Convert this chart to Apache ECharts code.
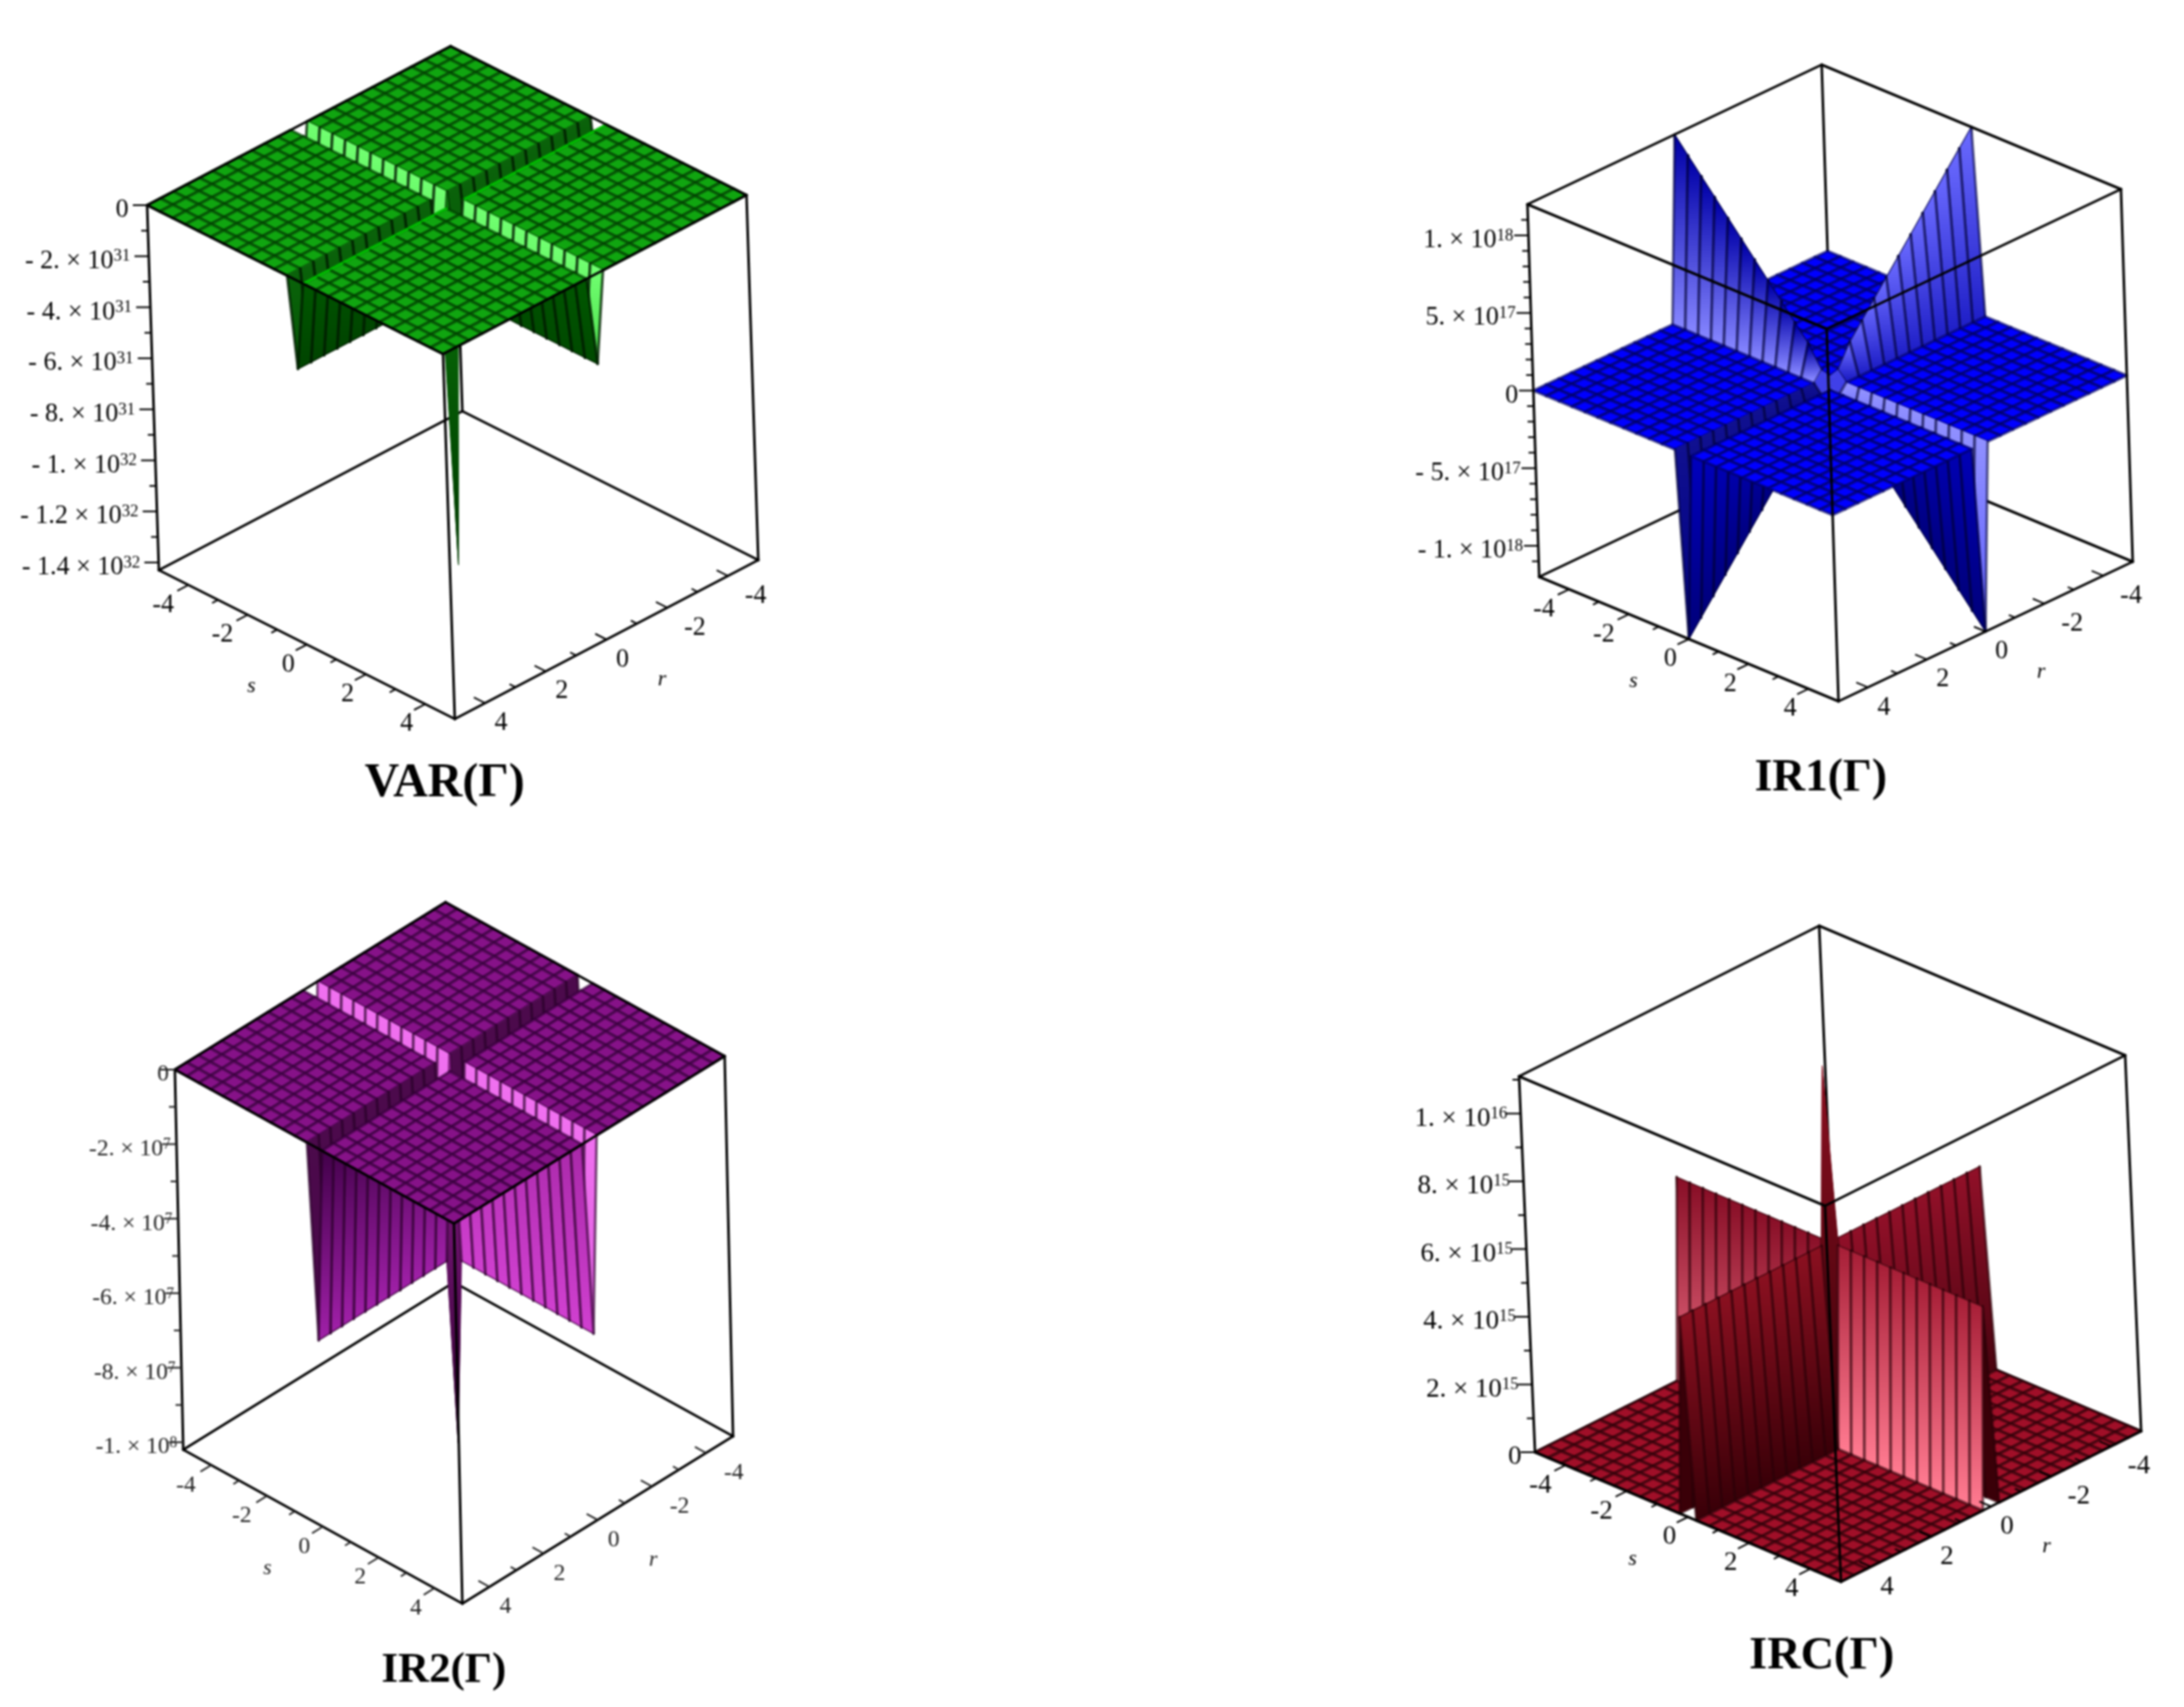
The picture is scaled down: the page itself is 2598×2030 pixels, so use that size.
<!DOCTYPE html>
<html><head><meta charset="utf-8">
<style>html,body{margin:0;padding:0;background:#fff}#c{width:2598px;height:2030px;filter:blur(0.8px)}</style>
<script src="https://cdn.jsdelivr.net/npm/echarts@6/dist/echarts.min.js"></script>
</head><body><div id="c"></div>
<script>
// ---- data ----
const gridCoords=[-5,-4.57,-4.14,-3.71,-3.28,-2.85,-2.42,-1.99,-1.56,-1.13,-0.7,-0.27,0,0.27,0.7,1.13,1.56,1.99,2.42,2.85,3.28,3.71,4.14,4.57,5];
const axisTicks=[-4,-3,-2,-1,0,1,2,3,4];
const axisLabels=[-4,-2,0,2,4];

const varRange=[0,-1.43e32];
const varMajor=[0,-2e31,-4e31,-6e31,-8e31,-1e32,-1.2e32,-1.4e32];
const varMinor=[-1e31,-3e31,-5e31,-7e31,-9e31,-1.1e32,-1.3e32];
const varTickText=['0','- 2. × 10{sup|31}','- 4. × 10{sup|31}','- 6. × 10{sup|31}','- 8. × 10{sup|31}','- 1. × 10{sup|32}','- 1.2 × 10{sup|32}','- 1.4 × 10{sup|32}'];
const varAlongR=[-3.5e31,-3.5e31,-3.5e31,-3.5e31,-3.5e31,-3.5e31,-3.5e31,-3.5e31,-3.5e31,-3.5e31,-3.5e31,-3.5e31,-1.43e32,-3.5e31,-3.5e31,-3.5e31,-3.5e31,-3.5e31,-3.5e31,-3.5e31,-3.5e31,-3.5e31,-3.5e31,-3.5e31,-3.5e31];
const varAlongS=[-3.5e31,-3.5e31,-3.5e31,-3.5e31,-3.5e31,-3.5e31,-3.5e31,-3.5e31,-3.5e31,-3.5e31,-3.5e31,-3.5e31,-1.43e32,-3.5e31,-3.5e31,-3.5e31,-3.5e31,-3.5e31,-3.5e31,-3.5e31,-3.5e31,-3.5e31,-3.5e31,-3.5e31,-3.5e31];

const ir1Range=[1.2e18,-1.2e18];
const ir1Major=[1e18,5e17,0,-5e17,-1e18];
const ir1Minor=[1.1e18,9e17,8e17,7e17,6e17,4e17,3e17,2e17,1e17,-1e17,-2e17,-3e17,-4e17,-6e17,-7e17,-8e17,-9e17,-1.1e18];
const ir1TickText=['1. × 10{sup|18}','5. × 10{sup|17}','0','- 5. × 10{sup|17}','- 1. × 10{sup|18}'];
const ir1AlongR=[1.2e18,1.1e18,1e18,9e17,8e17,7e17,6e17,5e17,4e17,3e17,2e17,6e16,0,-6e16,-2e17,-3e17,-4e17,-5e17,-6e17,-7e17,-8e17,-9e17,-1e18,-1.1e18,-1.2e18];
const ir1AlongS=[1.2e18,1.1e18,1e18,9e17,8e17,7e17,6e17,5e17,4e17,3e17,2e17,6e16,0,-6e16,-2e17,-3e17,-4e17,-5e17,-6e17,-7e17,-8e17,-9e17,-1e18,-1.1e18,-1.2e18];

const ir2Range=[0,-1.02e8];
const ir2Major=[0,-2e7,-4e7,-6e7,-8e7,-1e8];
const ir2Minor=[-1e7,-3e7,-5e7,-7e7,-9e7];
const ir2TickText=['0','-2. × 10{sup|7}','-4. × 10{sup|7}','-6. × 10{sup|7}','-8. × 10{sup|7}','-1. × 10{sup|8}'];
const ir2AlongR=[-5.2e7,-5.2e7,-5.2e7,-5.2e7,-5.2e7,-5.2e7,-5.2e7,-5.2e7,-5.2e7,-5.2e7,-5.2e7,-5.2e7,-1.02e8,-5.2e7,-5.2e7,-5.2e7,-5.2e7,-5.2e7,-5.2e7,-5.2e7,-5.2e7,-5.2e7,-5.2e7,-5.2e7,-5.2e7];
const ir2AlongS=[-5.2e7,-5.2e7,-5.2e7,-5.2e7,-5.2e7,-5.2e7,-5.2e7,-5.2e7,-5.2e7,-5.2e7,-5.2e7,-5.2e7,-1.02e8,-5.2e7,-5.2e7,-5.2e7,-5.2e7,-5.2e7,-5.2e7,-5.2e7,-5.2e7,-5.2e7,-5.2e7,-5.2e7,-5.2e7];

const ircRange=[1.11e16,0];
const ircMajor=[1e16,8e15,6e15,4e15,2e15,0];
const ircMinor=[1.1e16,9e15,7e15,5e15,3e15,1e15];
const ircTickText=['1. × 10{sup|16}','8. × 10{sup|15}','6. × 10{sup|15}','4. × 10{sup|15}','2. × 10{sup|15}','0'];
const ircAlongR=[5.9e15,5.9e15,5.9e15,5.9e15,5.9e15,5.9e15,5.9e15,5.9e15,5.9e15,5.9e15,5.9e15,5.9e15,1.11e16,5.9e15,5.9e15,5.9e15,5.9e15,5.9e15,5.9e15,5.9e15,5.9e15,5.9e15,5.9e15,5.9e15,5.9e15];
const ircAlongS=[5.9e15,5.9e15,5.9e15,5.9e15,5.9e15,5.9e15,5.9e15,5.9e15,5.9e15,5.9e15,5.9e15,5.9e15,1.11e16,5.9e15,5.9e15,5.9e15,5.9e15,5.9e15,5.9e15,5.9e15,5.9e15,5.9e15,5.9e15,5.9e15,5.9e15];

// ---- layout and colours ----
const SERIF='"Liberation Serif","Times New Roman",serif';
const MID=12;
const panels=[
 {name:'VAR(Γ)',titleX:524,titleY:927,titleSize:57,back:[536,55],left:[175,244],right:[888,232],down:[14,434],
  labelSize:31,supSize:20,labelGap:22,textColor:'#000',glow:'#00bf00',
  range:varRange,major:varMajor,minor:varMinor,text:varTickText,alongR:varAlongR,alongS:varAlongS,
  plate:'#10a510',line:'rgba(0,55,0,0.62)',wallLine:'rgba(0,25,0,0.75)',
  walls:{rFarNeg:['#50e050','#70ff70'],rFarPos:['#50e050','#70ff70'],rNearNeg:['#005000','#005a00'],rNearPos:['#004a00','#005800'],
         sFarNeg:['#065806','#0a620a'],sFarPos:['#065806','#0a620a'],sNearNeg:['#005000','#005a00'],sNearPos:['#004400','#005800'],spike:['#003800','#0a7a0a']}},
 {name:'IR1(Γ)',titleX:2161,titleY:921,titleSize:54,back:[2167,77],left:[1817,243],right:[2523,225],down:[14,443],
  labelSize:31,supSize:20,labelGap:18,textColor:'#000',
  range:ir1Range,major:ir1Major,minor:ir1Minor,text:ir1TickText,alongR:ir1AlongR,alongS:ir1AlongS,
  plate:'#0000ff',line:'rgba(0,0,90,0.62)',wallLine:'rgba(0,0,50,0.55)',
  walls:{rFarNeg:['#000090','#000090'],rFarPos:['#6060ff','#9090ff'],rNearNeg:['#0000a8','#8585ff'],rNearPos:['#000078','#0000b8'],
         sFarNeg:['#000090','#000090'],sFarPos:['#000080','#101090'],sNearNeg:['#6a6aff','#2020c8'],sNearPos:['#000078','#0000c0'],spike:['#4040e8','#4040e8']}},
 {name:'IR2(Γ)',titleX:523,titleY:1982,titleSize:51,back:[530,1073],left:[208,1272],right:[862,1256],down:[10,452],
  labelSize:28,supSize:18,labelGap:7,textColor:'#222',
  range:ir2Range,major:ir2Major,minor:ir2Minor,text:ir2TickText,alongR:ir2AlongR,alongS:ir2AlongS,
  plate:'#861288',line:'rgba(50,0,55,0.6)',wallLine:'rgba(40,0,40,0.6)',
  walls:{rFarNeg:['#e060e0','#f070f0'],rFarPos:['#e060e0','#f070f0'],rNearNeg:['#400048','#600060'],rNearPos:['#d040d0','#a828a8'],
         sFarNeg:['#480848','#4c0a4c'],sFarPos:['#480848','#4c0a4c'],sNearNeg:['#400048','#400048'],sNearPos:['#a020a8','#400048'],spike:['#2a002a','#a020a0']}},
 {name:'IRC(Γ)',titleX:2162,titleY:1965,titleSize:55,back:[2164,1101],left:[1807,1280],right:[2528,1255],down:[19,447],
  labelSize:32,supSize:20,labelGap:16,textColor:'#000',
  range:ircRange,major:ircMajor,minor:ircMinor,text:ircTickText,alongR:ircAlongR,alongS:ircAlongS,
  plate:'#a00f28',line:'rgba(40,0,6,0.62)',wallLine:'rgba(40,0,8,0.55)',
  walls:{rFarNeg:['#5a0814','#5a0814'],rFarPos:['#3a0008','#3a0008'],rNearNeg:['#8a1028','#e86a80'],rNearPos:['#a82038','#ff7a90'],
         sFarNeg:['#5a0814','#5a0814'],sFarPos:['#3a0008','#3a0008'],sNearNeg:['#901028','#4a0410'],sNearPos:['#8a1020','#3a0008'],spike:['#8a1020','#3a0008']}}
];

function project(p,r,s,z){
  const f=(p.range[0]-z)/(p.range[0]-p.range[1]);
  const u=(r+5)/10,v=(s+5)/10;
  return [p.back[0]+u*(p.left[0]-p.back[0])+v*(p.right[0]-p.back[0])+f*p.down[0],
          p.back[1]+u*(p.left[1]-p.back[1])+v*(p.right[1]-p.back[1])+f*p.down[1]];
}
function heightAt(p,i,j){
  if(j===MID) return p.alongR[i];
  if(i===MID) return p.alongS[j];
  return 0;
}
function cellData(p){
  const cells=[];
  for(let i=0;i<gridCoords.length-1;i++)for(let j=0;j<gridCoords.length-1;j++){
    cells.push([gridCoords[i],gridCoords[j],gridCoords[i+1],gridCoords[j+1],
      heightAt(p,i,j),heightAt(p,i+1,j),heightAt(p,i+1,j+1),heightAt(p,i,j+1),i,j]);
  }
  cells.sort((a,b)=>(a[8]+a[9])-(b[8]+b[9]));
  return cells;
}
function wallKey(i,j){
  const ri=i===MID-1||i===MID,si=j===MID-1||j===MID;
  if(ri&&si) return 'spike';
  if(ri) return (i===MID-1?'rFar':'rNear')+(j<MID?'Neg':'Pos');
  if(si) return (j===MID-1?'sFar':'sNear')+(i<MID?'Neg':'Pos');
  return null;
}
function strongest(list){return list.reduce((a,b)=>Math.abs(b)>Math.abs(a)?b:a,0);}
function seg(a,b,stroke,w){return {type:'line',shape:{x1:a[0],y1:a[1],x2:b[0],y2:b[1]},style:{stroke:stroke,lineWidth:w,lineCap:'round'}};}
function surfaceRender(p){
  return function(params,api){
    const r0=api.value(0),s0=api.value(1),r1=api.value(2),s1=api.value(3);
    const z=[api.value(4),api.value(5),api.value(6),api.value(7)];
    const i=api.value(8),j=api.value(9);
    const pts=[project(p,r0,s0,z[0]),project(p,r1,s0,z[1]),project(p,r1,s1,z[2]),project(p,r0,s1,z[3])].map(q=>api.coord(q));
    const key=wallKey(i,j);
    if(!key){
      const poly={type:'polygon',shape:{points:pts},style:{fill:p.plate,stroke:p.line,lineWidth:3.4,lineJoin:'round'}};
      if(p.glow&&j===MID+1) return {type:'group',children:[poly,seg(pts[0],pts[1],p.glow,3)]};
      return poly;
    }
    const rc=(r0+r1)/2,sc=(s0+s1)/2;
    const limit=key==='spike'?strongest(p.range):strongest(z);
    const a=api.coord(project(p,rc,sc,limit)),b=api.coord(project(p,rc,sc,0));
    const c=p.walls[key];
    const fill=new echarts.graphic.LinearGradient(a[0],a[1],b[0],b[1],[{offset:0,color:c[0]},{offset:1,color:c[1]}],true);
    const kids=[{type:'polygon',shape:{points:pts},style:{fill:fill,stroke:fill,lineWidth:0.6}}];
    if(key==='spike') return kids[0];
    if(key[0]==='r'){
      kids.push(seg(pts[0],pts[1],p.wallLine,3.2),seg(pts[3],pts[2],p.wallLine,3.2));
      kids.push(seg(key==='rFarNeg'||key==='rFarPos'?pts[1]:pts[0],key==='rFarNeg'||key==='rFarPos'?pts[2]:pts[3],p.wallLine,1.4));
    }else{
      kids.push(seg(pts[0],pts[3],p.wallLine,3.2),seg(pts[1],pts[2],p.wallLine,3.2));
      kids.push(seg(key==='sFarNeg'||key==='sFarPos'?pts[3]:pts[0],key==='sFarNeg'||key==='sFarPos'?pts[2]:pts[1],p.wallLine,1.4));
    }
    return {type:'group',children:kids};
  };
}
function edgeData(p,list){
  const t=p.range[0],b=p.range[1];
  return list.map(e=>[e[0],e[1],e[2]?b:t,e[3],e[4],e[5]?b:t]);
}
function edgeRender(p){
  return function(params,api){
    const a=api.coord(project(p,api.value(0),api.value(1),api.value(2)));
    const b=api.coord(project(p,api.value(3),api.value(4),api.value(5)));
    return seg(a,b,'#000',3);
  };
}
const backEdges=[[-5,-5,0,-5,-5,1],[-5,-5,1,5,-5,1],[-5,-5,1,-5,5,1]];
const frontEdges=[[-5,-5,0,5,-5,0],[-5,-5,0,-5,5,0],[5,-5,0,5,5,0],[-5,5,0,5,5,0],[5,5,0,5,5,1],[5,-5,0,5,-5,1],[-5,5,0,-5,5,1],[5,-5,1,5,5,1],[-5,5,1,5,5,1]];
const base={type:'custom',coordinateSystem:'cartesian2d',silent:true,animation:false,clip:false,xAxisIndex:0,yAxisIndex:0};
const series=[];
panels.forEach(p=>{
  const font={fontFamily:SERIF,fontSize:p.labelSize};
  series.push(Object.assign({},base,{name:p.name+' back',data:edgeData(p,backEdges),renderItem:edgeRender(p)}));
  series.push(Object.assign({},base,{name:p.name,data:cellData(p),renderItem:surfaceRender(p)}));
  series.push(Object.assign({},base,{name:p.name+' front',data:edgeData(p,frontEdges),renderItem:edgeRender(p)}));
  // vertical axis ticks and labels
  series.push(Object.assign({},base,{name:p.name+' z ticks',data:p.minor.map(z=>[z,8,-1]).concat(p.major.map((z,k)=>[z,17,k])),
    renderItem:function(params,api){
      const q=api.coord(project(p,5,-5,api.value(0))),len=api.value(1),k=api.value(2);
      const kids=[{type:'line',shape:{x1:q[0]-len,y1:q[1],x2:q[0],y2:q[1]},style:{stroke:p.textColor,lineWidth:2}}];
      if(k>=0) kids.push({type:'text',style:Object.assign({x:q[0]-p.labelGap,y:q[1]+6,text:p.text[k],align:'right',verticalAlign:'middle',fill:p.textColor,
        rich:{sup:{fontSize:p.supSize,fontFamily:SERIF,verticalAlign:'top',padding:[0,0,10,0]}}},font)});
      return {type:'group',children:kids};
    }}));
  // base axes ticks and labels
  const rv=[p.left[0]-p.back[0],p.left[1]-p.back[1]],sv=[p.right[0]-p.back[0],p.right[1]-p.back[1]];
  const nrm=v=>{const l=Math.hypot(v[0],v[1]);return [v[0]/l,v[1]/l];};
  const rn=nrm(rv),sn=nrm(sv),bot=p.range[1];
  series.push(Object.assign({},base,{name:p.name+' s ticks',data:axisTicks.map(t=>[t]),
    renderItem:function(params,api){
      const t=api.value(0),q=api.coord(project(p,5,t,bot)),len=t%2===0?15:8;
      const kids=[{type:'line',shape:{x1:q[0],y1:q[1],x2:q[0]+rn[0]*len,y2:q[1]+rn[1]*len},style:{stroke:p.textColor,lineWidth:2}}];
      if(axisLabels.indexOf(t)>=0) kids.push({type:'text',style:Object.assign({x:q[0]+(t<0?-30:-22),y:q[1]+24,text:String(t),align:'center',verticalAlign:'middle',fill:p.textColor},font)});
      return {type:'group',children:kids};
    }}));
  series.push(Object.assign({},base,{name:p.name+' r ticks',data:axisTicks.map(t=>[t]),
    renderItem:function(params,api){
      const t=api.value(0),q=api.coord(project(p,t,5,bot)),len=t%2===0?15:8;
      const kids=[{type:'line',shape:{x1:q[0],y1:q[1],x2:q[0]-sn[0]*len,y2:q[1]-sn[1]*len},style:{stroke:p.textColor,lineWidth:2}}];
      if(axisLabels.indexOf(t)>=0) kids.push({type:'text',style:Object.assign({x:q[0]+(t<0?33:19),y:q[1]+24,text:String(t),align:'center',verticalAlign:'middle',fill:p.textColor},font)});
      return {type:'group',children:kids};
    }}));
  series.push(Object.assign({},base,{name:p.name+' axis names',data:[[5,0,-66,50,0],[0,5,66,48,1]],
    renderItem:function(params,api){
      const q=api.coord(project(p,api.value(0),api.value(1),bot));
      return {type:'text',style:{x:q[0]+api.value(2),y:q[1]+api.value(3),text:api.value(4)?'r':'s',align:'center',verticalAlign:'middle',fill:p.textColor,fontFamily:SERIF,fontSize:26,fontStyle:'italic'}};
    }}));
});
const chart=echarts.init(document.getElementById('c'),null,{renderer:'canvas',width:2598,height:2030});
chart.setOption({
  backgroundColor:'#fff',animation:false,
  title:panels.map(p=>({text:p.name,left:p.titleX,top:p.titleY-p.titleSize/2,textAlign:'center',
    textStyle:{fontFamily:SERIF,fontWeight:'bold',fontSize:p.titleSize,color:'#000'}})),
  grid:{left:0,top:0,right:0,bottom:0},
  xAxis:{type:'value',min:0,max:2598,show:false},
  yAxis:{type:'value',min:0,max:2030,inverse:true,show:false},
  series:series
});
</script></body></html>
